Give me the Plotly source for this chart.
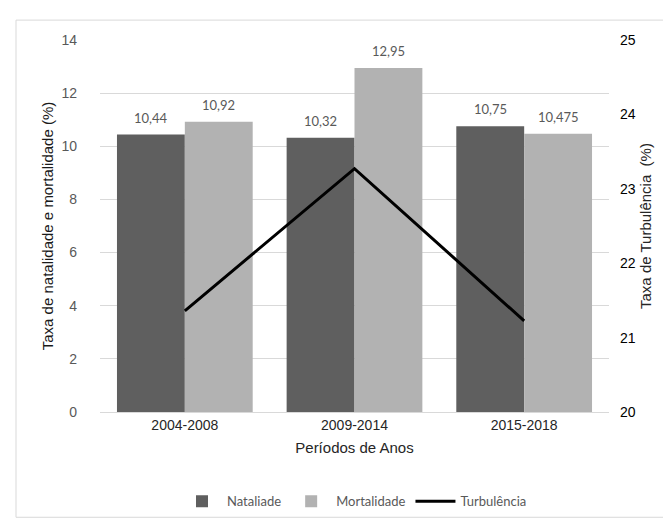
import plotly.graph_objects as go

periodos = ['2004-2008', '2009-2014', '2015-2018']
natalidade = [10.44, 10.32, 10.75]
mortalidade = [10.92, 12.95, 10.475]
turbulencia = [21.36, 23.27, 21.225]
rotulos_nat = ['10,44', '10,32', '10,75']
rotulos_mort = ['10,92', '12,95', '10,475']

label_font = dict(family='Lato, Open Sans, sans-serif', size=13, color='#595959')

fig = go.Figure()

fig.add_trace(go.Bar(
    x=periodos, y=natalidade, name='Nataliade',
    marker=dict(color='#5f5f5f', line=dict(width=0)),
))
fig.add_trace(go.Bar(
    x=periodos, y=mortalidade, name='Mortalidade',
    marker=dict(color='#b2b2b2', line=dict(width=0)),
))
fig.add_trace(go.Scatter(
    x=periodos, y=turbulencia, name='Turbulência', yaxis='y2',
    mode='lines', line=dict(color='black', width=3),
))

# data labels above each bar (bar half-offset = 34 px)
annotations = []
for serie, rotulos, dx in [(natalidade, rotulos_nat, -34), (mortalidade, rotulos_mort, 34)]:
    for p, v, t in zip(periodos, serie, rotulos):
        annotations.append(dict(
            x=p, y=v, xref='x', yref='y', text=t, showarrow=False,
            xshift=dx, yshift=17, font=label_font,
        ))

fig.update_layout(
    width=671, height=520,
    margin=dict(l=92, r=70, t=32, b=114),
    paper_bgcolor='white', plot_bgcolor='white',
    barmode='group', bargap=0.2, bargroupgap=0,
    font=dict(family='Liberation Sans, Arial, sans-serif', color='#262626'),
    xaxis=dict(
        title=dict(text='Períodos de Anos', font=dict(size=15, color='#262626'), standoff=10),
        tickfont=dict(size=14, color='#262626'),
        showline=True, linecolor='#d9d9d9', linewidth=1,
        ticks='', showgrid=False,
    ),
    yaxis=dict(
        title=dict(text='Taxa de natalidade e mortalidade (%)', font=dict(size=15, color='#1a1a1a'),
                   standoff=4),
        range=[0, 14], dtick=2,
        tickfont=dict(size=14, color='#595959'),
        ticklabelstandoff=22,
        showgrid=True, gridcolor='#d9d9d9', gridwidth=1,
        zeroline=False, ticks='',
    ),
    yaxis2=dict(
        title=dict(text='Taxa de Turbulência  (%)', font=dict(size=15, color='#262626'),
                   standoff=5),
        range=[20, 25], dtick=1, overlaying='y', side='right',
        tickfont=dict(size=14, color='#000000'),
        ticklabelstandoff=10,
        showgrid=False, zeroline=False, ticks='',
    ),
    legend=dict(
        orientation='h', xanchor='center', x=0.5, yanchor='top', y=-0.2,
        font=dict(family='Lato, Open Sans, sans-serif', size=13, color='#595959'),
        traceorder='normal', itemwidth=40,
    ),
    annotations=annotations,
    shapes=[dict(
        type='rect', xref='paper', yref='paper',
        x0=-0.165, x1=1.122, y0=-0.283, y1=1.0535,
        line=dict(color='#d9d9d9', width=1), fillcolor='rgba(0,0,0,0)', layer='below',
    )],
)

fig.write_html('out.html')
